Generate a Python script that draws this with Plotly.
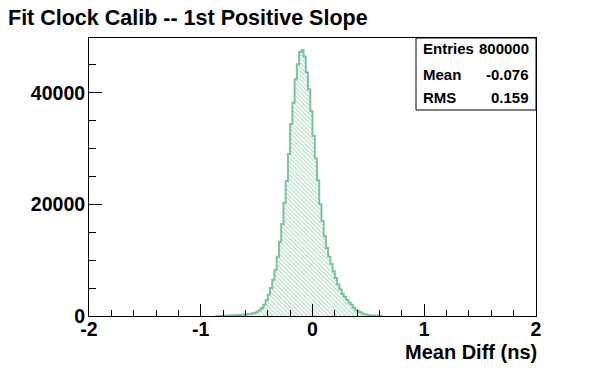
import plotly.graph_objects as go

# ---- data -------------------------------------------------------------
title_text = "Fit Clock Calib -- 1st Positive Slope"
x_title = "Mean Diff (ns)"
bin_width = 0.02
first_edge = -0.86
counts = [
    5, 10, 20, 40, 60, 80, 100, 120, 140, 160,
    190, 220, 260, 300, 360, 420, 500, 600, 800, 1050,
    1450, 2000, 2800, 3800, 5000, 6500, 8300, 10600, 13300, 16500,
    20300, 24200, 29000, 34400, 38200, 42400, 45100, 47300, 47600, 46500,
    43600, 40600, 36700, 32300, 28200, 24300, 20000, 17000, 14300, 12200,
    10600, 9300, 8000, 6800, 5700, 4800, 4000, 3400, 2900, 2400,
    2000, 1500, 1100, 850, 650, 450, 320, 220, 150, 100,
    70, 50, 30, 10,
]
x_ticks = [-2, -1, 0, 1, 2]
y_ticks = [0, 20000, 40000]
stats_labels = ["Entries", "Mean", "RMS"]
stats_values = ["800000", "-0.076", "0.159"]

# ---- derived ----------------------------------------------------------
n = len(counts)
centers = [first_edge + bin_width * (i + 0.5) for i in range(n)]
edges = [first_edge + bin_width * i for i in range(n + 1)]
step_x = [edges[0]] + edges[:n] + [edges[n]]
step_y = [0] + counts + [0]

green = "#7ec2a0"
font_family = "Liberation Sans, Arial, Helvetica, sans-serif"

fig = go.Figure()
fig.add_trace(go.Bar(
    x=centers, y=counts, width=bin_width,
    marker=dict(color="white", line=dict(width=0),
                pattern=dict(shape="\\", fgcolor=green, bgcolor="white",
                             size=3, solidity=0.45)),
    hoverinfo="skip", showlegend=False,
))
fig.add_trace(go.Scatter(
    x=step_x, y=step_y, mode="lines",
    line=dict(shape="hv", color=green, width=2),
    hoverinfo="skip", showlegend=False,
))

W, H = 596, 372
L, R, T, B = 89, 60, 38, 56
plot_w = W - L - R
plot_h = H - T - B

def px_x(px):
    return (px - L) / plot_w

def px_y(py):
    return (H - B - py) / plot_h

fig.update_layout(
    width=W, height=H,
    margin=dict(l=L, r=R, t=T, b=B, pad=0, autoexpand=False),
    paper_bgcolor="white", plot_bgcolor="white",
    bargap=0,
    font=dict(family=font_family, color="black"),
    title=dict(text="<b>" + title_text + "</b>", x=8 / W, xanchor="left",
               y=1 - 17 / H, yanchor="middle", xref="container", yref="container",
               font=dict(size=21.5, family=font_family, color="black")),
    xaxis=dict(range=[-2, 2], tickvals=x_ticks,
               ticktext=["<b>%g</b>" % v for v in x_ticks],
               ticks="inside", ticklen=12, tickwidth=1, tickcolor="black",
               showline=True, linecolor="black", linewidth=1, mirror=True,
               showgrid=False, zeroline=False, ticklabelstandoff=-4,
               automargin=False,
               tickfont=dict(size=19.5, family=font_family, color="black"),
               minor=dict(dtick=0.2, ticks="inside", ticklen=6,
                          tickcolor="black", tickwidth=1, showgrid=False)),
    yaxis=dict(range=[0, 49800], tickvals=y_ticks,
               ticktext=["<b>%d</b>" % v for v in y_ticks],
               ticks="inside", ticklen=13, tickwidth=1, tickcolor="black",
               showline=True, linecolor="black", linewidth=1, mirror=True,
               showgrid=False, zeroline=False, ticklabelstandoff=-1,
               automargin=False,
               tickfont=dict(size=19.5, family=font_family, color="black"),
               minor=dict(dtick=5000, ticks="inside", ticklen=7,
                          tickcolor="black", tickwidth=1, showgrid=False)),
)

# x-axis title (right aligned at the frame edge)
fig.add_annotation(text="<b>" + x_title + "</b>", xref="paper", yref="paper",
                   x=1, y=px_y(352), xanchor="right", yanchor="middle", xshift=3,
                   showarrow=False, font=dict(size=20, family=font_family, color="black"))

# stats box
box_left, box_bottom = 416, 110
fig.add_shape(type="rect", xref="paper", yref="paper",
              x0=px_x(box_left), x1=1, y0=px_y(box_bottom), y1=1,
              line=dict(color="black", width=1), fillcolor="white", layer="above")
row_y = [49, 75, 97]
for lab, val, ry in zip(stats_labels, stats_values, row_y):
    fig.add_annotation(text="<b>" + lab + "</b>", xref="paper", yref="paper",
                       x=px_x(421), y=px_y(ry), xanchor="left", yanchor="middle",
                       showarrow=False, font=dict(size=15, family=font_family, color="black"))
    fig.add_annotation(text="<b>" + val + "</b>", xref="paper", yref="paper",
                       x=px_x(531), y=px_y(ry), xanchor="right", yanchor="middle",
                       showarrow=False, font=dict(size=15, family=font_family, color="black"))

fig.write_html("out.html", config={"displayModeBar": False},
               post_script="document.body.style.margin='0';document.body.style.padding='0';")
